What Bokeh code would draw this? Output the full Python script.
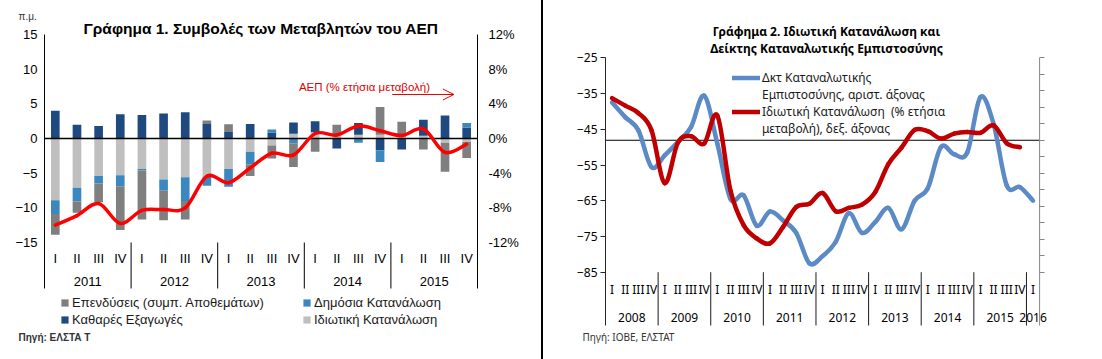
from bokeh.plotting import figure
from bokeh.models import (Range1d, LinearAxis, FixedTicker, PrintfTickFormatter, Label,
                          Legend, LegendItem, Title, Arrow, OpenHead, ColumnDataSource, Div)
from bokeh.core.properties import value
from bokeh.layouts import row
from bokeh.embed import file_html
from bokeh.resources import INLINE

# ---------------- Chart 1 data (contributions to GDP growth, pp) ----------------
years1 = ["2011", "2012", "2013", "2014", "2015"]
quarter_names = ["I", "II", "III", "IV"]
private_cons = [-8.9, -7.1, -5.4, -5.3, -4.4, -5.9, -5.6, -5.5, -4.4, -1.9,
                -1.0, 0.7, 0.95, 0.6, 0.55, 0.55, 0.3, 0.4, -0.6, -0.5]
net_exports = [4.0, 2.0, 1.8, 3.5, 3.4, 3.6, 3.8, 2.1, 0.95, 2.1,
               0.85, 1.6, 1.55, -1.45, 1.7, -1.7, -1.6, 2.3, 3.3, 1.6]
public_cons = [-2.0, -2.0, -1.1, -1.6, -0.2, -1.65, -3.4, -1.3, -2.55, -1.85,
               0.45, -0.7, 0.0, 0.0, -0.6, -1.7, 0.0, 0.0, 0.0, 0.65]
investment = [-3.0, -1.6, -2.7, -6.3, -7.1, -4.25, -2.7, 0.5, 1.1, -1.65,
              -1.9, -3.4, -1.9, 1.4, 0.0, 4.0, 2.1, -1.6, -4.2, -2.3]
gdp_growth = [-10.0, -8.9, -7.5, -9.8, -8.3, -8.2, -8.0, -4.35, -5.1, -3.4,
              -1.7, -1.9, 0.58, 0.4, 1.45, 0.9, 0.35, 1.1, -1.6, -0.65]

# ---------------- Chart 2 data ----------------
years2 = ["2008", "2009", "2010", "2011", "2012", "2013", "2014", "2015", "2016"]
confidence = [-37.5, -41.6, -45.3, -55.6, -52.3, -48.6, -44.4, -35.6, -49.0, -64.5,
              -63.5, -72.0, -68.0, -70.5, -74.0, -82.5, -80.5, -76.5, -68.5, -74.0,
              -71.0, -67.0, -73.0, -65.0, -61.5, -50.0, -52.0, -51.5, -36.0, -43.5,
              -60.7, -61.2, -65.0]
priv_cons_growth = [5.1, 4.2, 3.3, 1.2, -5.2, -0.3, 0.5, -0.4, 3.0, -6.1,
                    -10.3, -11.9, -12.5, -10.5, -8.1, -7.7, -6.4, -8.6, -8.2, -7.8,
                    -6.3, -2.9, -0.9, 1.25, 1.1, 0.2, 0.8, 1.0, 0.9, 1.8,
                    -0.35, -0.85, None]


def smooth_segments(xs, ys):
    """Cubic Bezier segments (Catmull-Rom style) through the data points."""
    pts = [(x, y) for x, y in zip(xs, ys) if y is not None]
    n = len(pts)
    seg = dict(x0=[], y0=[], x1=[], y1=[], cx0=[], cy0=[], cx1=[], cy1=[])
    for i in range(n - 1):
        pa = pts[max(i - 1, 0)]
        pb = pts[i]
        pc = pts[i + 1]
        pd = pts[min(i + 2, n - 1)]
        seg["x0"].append(pb[0]); seg["y0"].append(pb[1])
        seg["x1"].append(pc[0]); seg["y1"].append(pc[1])
        seg["cx0"].append(pb[0] + (pc[0] - pa[0]) / 6.0)
        seg["cy0"].append(pb[1] + (pc[1] - pa[1]) / 6.0)
        seg["cx1"].append(pc[0] - (pd[0] - pb[0]) / 6.0)
        seg["cy1"].append(pc[1] - (pd[1] - pb[1]) / 6.0)
    return ColumnDataSource(seg)


ARIAL = "Liberation Sans"
CAL = "Noto Sans"

# shared vertical frame (plots in a row get their frames aligned)
FRAME_TOP = 34
FRAME_BOTTOM = 327
H = 359
FRAME_H = FRAME_BOTTOM - FRAME_TOP

# =========================== Chart 1 ===========================
W1 = 541
L1, R1 = 44, 64
PLOT_H1 = 208            # height of the value area (-15 .. 15)
UNIT1 = PLOT_H1 / 30.0   # px per pp
Y_TOP1 = 15
Y_BOT1 = Y_TOP1 - FRAME_H / UNIT1
RATIO1 = 0.8             # right axis (%) per left unit


def v1(px_below_top):
    return Y_TOP1 - px_below_top / UNIT1


n1 = len(gdp_growth)
xs1 = list(range(n1))
p1 = figure(width=W1, height=H, x_range=Range1d(-0.5, n1 - 0.5), y_range=Range1d(Y_BOT1, Y_TOP1),
            output_backend="svg", toolbar_location=None, title=None,
            x_axis_location=None, y_axis_location=None,
            min_border_left=L1, min_border_right=R1, min_border_top=FRAME_TOP,
            min_border_bottom=H - FRAME_BOTTOM)
p1.extra_y_ranges = {"pct": Range1d(Y_BOT1 * RATIO1, Y_TOP1 * RATIO1)}
p1.grid.visible = False
p1.outline_line_color = None

series1 = [
    ("Ιδιωτική Κατανάλωση", private_cons, "#BFBFBF"),
    ("Καθαρές Εξαγωγές", net_exports, "#1F4A80"),
    ("Δημόσια Κατανάλωση", public_cons, "#3B88C0"),
    ("Επενδύσεις (συμπ. Αποθεμάτων)", investment, "#7F7F7F"),
]
pos = [0.0] * n1
neg = [0.0] * n1
rend1 = {}
for name, vals, col in series1:
    bottoms, tops = [], []
    for i, v in enumerate(vals):
        if v >= 0:
            bottoms.append(pos[i]); tops.append(pos[i] + v); pos[i] += v
        else:
            bottoms.append(neg[i]); tops.append(neg[i] + v); neg[i] += v
    src = ColumnDataSource(dict(x=xs1, bottom=bottoms, top=tops))
    rend1[name] = p1.vbar(x="x", bottom="bottom", top="top", width=0.4, source=src,
                          fill_color=col, line_color=None)

# zero line
p1.segment(x0=[-0.5], y0=[0], x1=[n1 - 0.5], y1=[0], line_color="black", line_width=1.3)

p1.bezier(x0="x0", y0="y0", x1="x1", y1="y1", cx0="cx0", cy0="cy0", cx1="cx1", cy1="cy1",
          source=smooth_segments(xs1, gdp_growth), y_range_name="pct",
          line_color="#FF0000", line_width=3.5, line_cap="round")

axis_low1 = v1(PLOT_H1 + 46)
yl1 = LinearAxis(ticker=FixedTicker(ticks=[-15, -10, -5, 0, 5, 10, 15]), bounds=(axis_low1, Y_TOP1),
                 major_tick_out=0, major_tick_in=0, minor_tick_out=0, minor_tick_in=0,
                 axis_line_color="black", major_label_standoff=7,
                 major_label_text_font=ARIAL, major_label_text_font_size="13px",
                 major_label_text_color="black")
p1.add_layout(yl1, "left")
yr1 = LinearAxis(y_range_name="pct", ticker=FixedTicker(ticks=[-12, -8, -4, 0, 4, 8, 12]),
                 bounds=(axis_low1 * RATIO1, Y_TOP1 * RATIO1),
                 formatter=PrintfTickFormatter(format="%d%%"),
                 major_tick_out=0, major_tick_in=0, minor_tick_out=0, minor_tick_in=0,
                 axis_line_color="black", major_label_standoff=11,
                 major_label_text_font=ARIAL, major_label_text_font_size="13px",
                 major_label_text_color="black")
p1.add_layout(yr1, "right")

# category labels and year separators
p1.text(x=xs1, y=[v1(PLOT_H1 + 16)] * n1, text=[quarter_names[i % 4] for i in xs1],
        text_align="center", text_baseline="middle", text_font=value(ARIAL),
        text_font_size=value("13px"), text_color="black")
ycent1 = [1.5 + 4 * k for k in range(len(years1))]
p1.text(x=ycent1, y=[v1(PLOT_H1 + 39)] * len(years1), text=years1,
        text_align="center", text_baseline="middle", text_font=value(ARIAL),
        text_font_size=value("13px"), text_color="black")
sep1 = [3.5 + 4 * k for k in range(len(years1) - 1)]
p1.segment(x0=sep1, y0=[-15] * len(sep1), x1=sep1, y1=[axis_low1] * len(sep1),
           line_color="black", line_width=1)

legend1 = Legend(items=[
    LegendItem(label="Επενδύσεις (συμπ. Αποθεμάτων)", renderers=[rend1["Επενδύσεις (συμπ. Αποθεμάτων)"]]),
    LegendItem(label="Καθαρές Εξαγωγές", renderers=[rend1["Καθαρές Εξαγωγές"]]),
    LegendItem(label="Δημόσια Κατανάλωση", renderers=[rend1["Δημόσια Κατανάλωση"]]),
    LegendItem(label="Ιδιωτική Κατανάλωση", renderers=[rend1["Ιδιωτική Κατανάλωση"]]),
], ncols=2, orientation="vertical", location=(16, 0), glyph_width=9, glyph_height=9,
    label_standoff=3, label_width=228, label_height=15, spacing=2, padding=0, margin=0,
    border_line_color=None, background_fill_alpha=0,
    label_text_font=ARIAL, label_text_font_size="13px", label_text_color="#1a1a1a")
p1.add_layout(legend1, "center")

p1.add_layout(Title(text="Γράφημα 1. Συμβολές των Μεταβλητών του ΑΕΠ", align="center",
                    text_font=ARIAL, text_font_size="15.5px", text_font_style="bold",
                    text_color="black", standoff=-4), "above")
p1.add_layout(Title(text="π.μ.", align="left", offset=-26, text_font=ARIAL,
                    text_font_size="10px", text_font_style="normal", text_color="#333333",
                    standoff=-5), "above")
p1.add_layout(Title(text="Πηγή: ΕΛΣΤΑ Τ", align="left", offset=-26, text_font=ARIAL,
                    text_font_size="10px", text_font_style="bold", text_color="#333333",
                    standoff=4), "below")

p1.add_layout(Label(x=11.25, y=5.9, y_range_name="pct", text="ΑΕΠ (% ετήσια μεταβολή)",
                    text_font=ARIAL, text_font_size="11.5px", text_color="#E00000",
                    text_baseline="middle", text_align="left"))
p1.add_layout(Arrow(x_start=15.56, y_start=5.08, x_end=18.41, y_end=5.08, y_range_name="pct",
                    line_color="#E00000", line_width=1,
                    end=OpenHead(size=11, line_color="#E00000", line_width=1)))

# =========================== Chart 2 ===========================
W2 = 559
L2 = 62
n2 = len(confidence)
xs2 = list(range(n2))
QW2 = 13.15               # px per quarter
X_END2 = n2 - 0.5 + 0.6   # a little room right of the right axis for the last year label
FRAME_W2 = round((X_END2 + 0.5) * QW2)
PLOT_H2 = 214.4           # value area height (-85 .. -25)
TOP_GAP2 = 23.3           # px between frame top and the -25 level
UNIT2 = PLOT_H2 / 60.0
V_TOP2 = -25
Y_TOP2 = V_TOP2 + TOP_GAP2 / UNIT2
Y_BOT2 = Y_TOP2 - FRAME_H / UNIT2
P_UNIT2 = PLOT_H2 / 26.0
P_VTOP2 = 10
P_TOP2 = P_VTOP2 + TOP_GAP2 / P_UNIT2
P_BOT2 = P_TOP2 - FRAME_H / P_UNIT2


def v2(px_below_top):
    return V_TOP2 - px_below_top / UNIT2


p2 = figure(width=W2, height=H, x_range=Range1d(-0.5, X_END2), y_range=Range1d(Y_BOT2, Y_TOP2),
            output_backend="svg", toolbar_location=None, title=None,
            x_axis_location=None, y_axis_location=None,
            min_border_left=L2, min_border_right=W2 - L2 - FRAME_W2, min_border_top=FRAME_TOP,
            min_border_bottom=H - FRAME_BOTTOM)
p2.extra_y_ranges = {"pct": Range1d(P_BOT2, P_TOP2)}
p2.grid.visible = False
p2.outline_line_color = None

# zero line of the right axis
p2.segment(x0=[-0.5], y0=[0], x1=[n2 - 0.5], y1=[0], y_range_name="pct",
           line_color="black", line_width=1)

r_conf = p2.bezier(x0="x0", y0="y0", x1="x1", y1="y1", cx0="cx0", cy0="cy0", cx1="cx1", cy1="cy1",
                   source=smooth_segments(xs2, confidence),
                   line_color="#5B8AC6", line_width=4.5, line_cap="round")
r_cons = p2.bezier(x0="x0", y0="y0", x1="x1", y1="y1", cx0="cx0", cy0="cy0", cx1="cx1", cy1="cy1",
                   source=smooth_segments(xs2, priv_cons_growth), y_range_name="pct",
                   line_color="#C00000", line_width=4.5, line_cap="round")
r_blank = p2.line(x=[], y=[], line_alpha=0)

axis_low2 = v2(PLOT_H2 + 53.3)
p_axis_low2 = P_VTOP2 - (PLOT_H2 + 53.3) / P_UNIT2
yl2 = LinearAxis(ticker=FixedTicker(ticks=[-85, -75, -65, -55, -45, -35, -25]),
                 bounds=(axis_low2, V_TOP2),
                 major_tick_out=5, major_tick_in=0, minor_tick_out=0, minor_tick_in=0,
                 axis_line_color="#262626", major_tick_line_color="#262626",
                 major_label_standoff=3, major_label_text_font=CAL,
                 major_label_text_font_size="12px", major_label_text_color="black")
p2.add_layout(yl2, "left")
yr2 = LinearAxis(y_range_name="pct", ticker=FixedTicker(ticks=list(range(-16, 11, 2))),
                 bounds=(p_axis_low2, P_VTOP2),
                 fixed_location=n2 - 0.5,
                 formatter=PrintfTickFormatter(format="%d%%"),
                 major_tick_out=5, major_tick_in=0, minor_tick_out=0, minor_tick_in=0,
                 axis_line_color=None, major_tick_line_color="#868686",
                 major_label_standoff=8, major_label_text_font=CAL,
                 major_label_text_font_size="12px", major_label_text_color="black")
p2.add_layout(yr2, "right")
# rule of the right axis (the frame continues a little to its right)
p2.segment(x0=[n2 - 0.5], y0=[P_VTOP2], x1=[n2 - 0.5], y1=[p_axis_low2], y_range_name="pct",
           line_color="#868686", line_width=1)

p2.text(x=xs2, y=[v2(PLOT_H2 + 17.6)] * n2, text=[quarter_names[i % 4] for i in xs2],
        text_align="center", text_baseline="middle", text_font=value(CAL),
        text_font_size=value("12px"), text_color="black")
ycent2 = [1.5 + 4 * k for k in range(len(years2) - 1)] + [n2 - 1]
p2.text(x=ycent2, y=[v2(PLOT_H2 + 45)] * len(years2), text=years2,
        text_align="center", text_baseline="middle", text_font=value(CAL),
        text_font_size=value("12px"), text_color="black")
sep2 = [3.5 + 4 * k for k in range(len(years2) - 1)]
p2.segment(x0=sep2, y0=[-85] * len(sep2), x1=sep2, y1=[axis_low2] * len(sep2),
           line_color="#1a1a1a", line_width=1)

legend2 = Legend(items=[
    LegendItem(label="Δκτ Καταναλωτικής", renderers=[r_conf]),
    LegendItem(label="Εμπιστοσύνης, αριστ. άξονας", renderers=[r_blank]),
    LegendItem(label="Ιδιωτική Κατανάλωση  (% ετήσια", renderers=[r_cons]),
    LegendItem(label="μεταβολή), δεξ. άξονας", renderers=[r_blank]),
], location=(127, FRAME_BOTTOM - 137), glyph_width=28, glyph_height=17, label_standoff=2,
    label_height=17, spacing=0, padding=0, margin=0, border_line_color=None,
    background_fill_alpha=0,
    label_text_font=CAL, label_text_font_size="12px", label_text_color="#1a1a1a")
p2.add_layout(legend2, "center")

p2.add_layout(Title(text="Γράφημα 2. Ιδιωτική Κατανάλωση και", align="center", text_font=CAL,
                    text_font_size="12px", text_font_style="bold", text_color="black",
                    standoff=-10), "above")
p2.add_layout(Label(x=(X_END2 - 0.5) / 2.0, y=V_TOP2 + 9.3 / UNIT2,
                    text="Δείκτης Καταναλωτικής Εμπιστοσύνης", text_align="center",
                    text_baseline="middle", text_font=CAL, text_font_size="12px",
                    text_font_style="bold", text_color="black"))
p2.add_layout(Title(text="Πηγή: ΙΟΒΕ, ΕΛΣΤΑΤ", align="left", offset=-23, text_font=CAL,
                    text_font_size="10px", text_font_style="normal", text_color="#333333",
                    standoff=0), "below")

sep = Div(width=2, height=H, margin=0, styles={"background-color": "black"})

layout = row(p1, sep, p2)
open("out.html", "w").write(file_html(layout, INLINE))
